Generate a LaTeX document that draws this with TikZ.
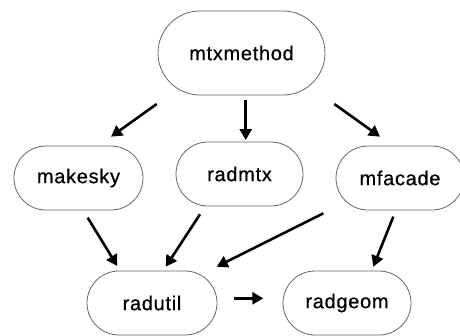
\documentclass[tikz,border=0pt]{standalone}
\usepackage{fontspec}
\setmainfont{Liberation Sans}
\newfontfamily\pillfont[LetterSpace=3.5,FakeBold=0.6]{Liberation Sans}
\usetikzlibrary{arrows.meta}
\begin{document}
\begin{tikzpicture}[x=1pt,y=-1pt,
  pill/.style={draw=black!60,line width=0.8pt,rounded corners=32pt,
    minimum width=129pt,minimum height=64pt,inner sep=0pt,
    font=\pillfont\fontsize{20}{24}\selectfont},
  dep/.style={line width=2.6pt,-{Triangle[length=11pt,width=12pt]}}]
\useasboundingbox (0,0) rectangle (460,335);
\begin{scope}
\clip (0,0) rectangle (460,335);
\node[pill,minimum width=167pt,minimum height=84pt,rounded corners=42pt] (mtx) at (241.5,53) {mtxmethod};
\node[pill] (makesky) at (78.5,178) {makesky};
\node[pill,minimum width=127pt] (radmtx) at (239.5,174) {radmtx};
\node[pill,minimum width=128pt] (mfacade) at (400,178) {mfacade};
\node[pill,minimum width=130pt] (radutil) at (152,303) {radutil};
\node[pill,minimum width=128pt] (radgeom) at (347,303) {radgeom};
\end{scope}
\draw[dep] ([shift={(-84.8,51)}]mtx.center) -- ([shift={(32.5,-41.3)}]makesky.center);
\draw[dep] ([shift={(4.2,47)}]mtx.center) -- ([shift={(6.2,-34)}]radmtx.center);
\draw[dep] ([shift={(92.8,51)}]mtx.center) -- ([shift={(-20,-41.3)}]mfacade.center);
\draw[dep] ([shift={(9.2,39.7)}]makesky.center) -- ([shift={(-34.7,-37)}]radutil.center);
\draw[dep] ([shift={(-39.5,40.3)}]radmtx.center) -- ([shift={(13.7,-36.3)}]radutil.center);
\draw[dep] ([shift={(-76.7,35.3)}]mfacade.center) -- ([shift={(64.7,-36.3)}]radutil.center);
\draw[dep] ([shift={(-6.7,38.7)}]mfacade.center) -- ([shift={(26.3,-36.3)}]radgeom.center);
\draw[dep] ([shift={(82.3,-4.7)}]radutil.center) -- ([shift={(-83.7,-4.7)}]radgeom.center);
\end{tikzpicture}
\end{document}
